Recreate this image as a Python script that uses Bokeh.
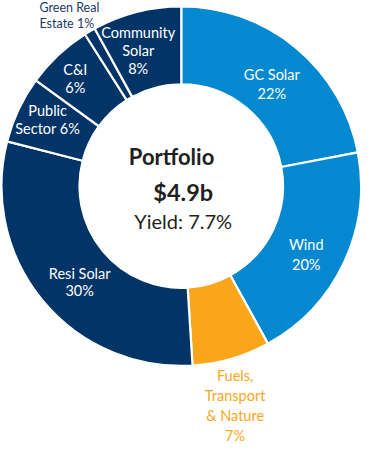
import math
from bokeh.plotting import figure
from bokeh.models import Range1d, ColumnDataSource
from bokeh.core.properties import value
from bokeh.embed import file_html
from bokeh.resources import INLINE

# ---- data (clockwise from 12 o'clock) ----
categories = ["GC Solar", "Wind", "Fuels,\nTransport\n& Nature", "Resi Solar",
              "Public\nSector", "C&I", "Green Real\nEstate", "Community\nSolar"]
shares = [22, 20, 7, 30, 6, 6, 1, 8]
center_title = "Portfolio"
center_total = "$4.9b"
center_yield = "Yield: 7.7%"

# ---- style ----
NAVY = "#023467"
BLUE = "#0489D1"
ORANGE = "#F9A61B"
slice_colors = [BLUE, BLUE, ORANGE, NAVY, NAVY, NAVY, NAVY, NAVY]
label_colors = ["white", "white", ORANGE, "white", "white", "white", "#1B3A6B", "white"]
# label placement: radius and angular nudge (deg, clockwise)
label_r = [141, 147, 233, 144, 154, 156, 229, 147]
label_dtheta = [1.9, 3.5, 2.4, -3.7, 1.3, -1.3, -9.1, -3.2]
label_gap = [20, 20, 20.7, 18, 18, 18.5, 16, 18.5]
label_align = ["center"] * 6 + ["left", "center"]
label_sizes = ["14.5px"] * 6 + ["12.5px", "14.5px"]
FONT = "Lato"

CX, CY = 189.5, 192.5
R_IN, R_OUT = 105, 185.5

total = sum(shares)
starts, ends = [], []
lx, ly, lt, lc, ls, la = [], [], [], [], [], []
cum = 0.0
for i, (cat, s) in enumerate(zip(categories, shares)):
    c1 = cum / total
    c2 = (cum + s) / total
    cum += s
    starts.append(math.pi / 2 - 2 * math.pi * c2)
    ends.append(math.pi / 2 - 2 * math.pi * c1)
    mid = math.radians((c1 + c2) / 2 * 360 + label_dtheta[i])
    bx = CX + label_r[i] * math.sin(mid)
    by = CY - label_r[i] * math.cos(mid)
    if "Sector" in cat or "Estate" in cat:
        lines = cat.split("\n")
        lines[-1] = f"{lines[-1]} {s}%"
    else:
        lines = cat.split("\n") + [f"{s}%"]
    n = len(lines)
    for k, line in enumerate(lines):
        lx.append(bx)
        ly.append(-(by + (k - (n - 1) / 2) * label_gap[i]))
        lt.append(line)
        lc.append(label_colors[i])
        ls.append(label_sizes[i])
        la.append(label_align[i])

src = ColumnDataSource(dict(start=starts, end=ends, color=slice_colors))
lab = ColumnDataSource(dict(x=lx, y=ly, text=lt, color=lc, size=ls, align=la))

p = figure(width=362, height=444, output_backend="svg", toolbar_location=None,
           x_range=Range1d(3, 376.5), y_range=Range1d(-459.2, -1), min_border=0)
p.axis.visible = False
p.grid.visible = False
p.outline_line_color = None
p.background_fill_color = "white"

p.annular_wedge(x=CX, y=-CY, inner_radius=R_IN, outer_radius=R_OUT,
                start_angle="start", end_angle="end", color="color",
                line_color="white", line_width=2.2, source=src)

p.text(x="x", y="y", text="text", text_color="color", text_font_size="size",
       text_font=value(FONT), text_align="align", text_baseline="middle",
       source=lab)

p.text(x=[CX - 10], y=[-(CY - 30)], text=[center_title], text_font=value(FONT),
       text_font_style="bold", text_font_size="22px", text_color="#231F20",
       text_align="center", text_baseline="middle")
p.text(x=[CX + 2], y=[-(CY + 6)], text=[center_total], text_font=value(FONT),
       text_font_style="bold", text_font_size="23.5px", text_color="#231F20",
       text_align="center", text_baseline="middle")
p.text(x=[CX + 2], y=[-(CY + 36)], text=[center_yield], text_font=value(FONT),
       text_font_size="20px", text_color="#231F20",
       text_align="center", text_baseline="middle")

open("out.html", "w").write(file_html(p, INLINE))
